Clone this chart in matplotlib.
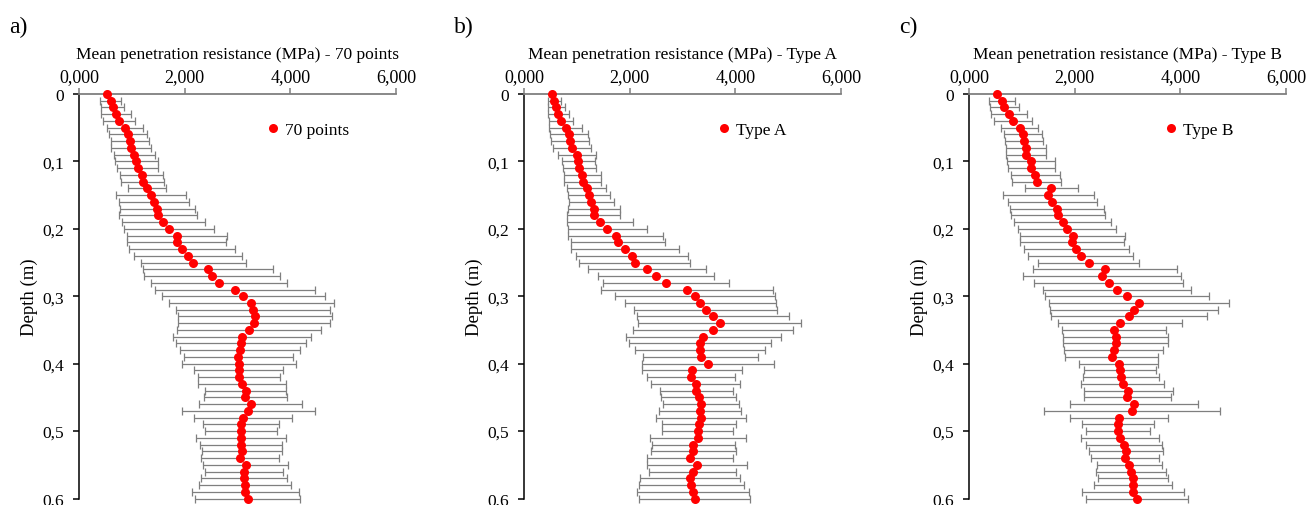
import numpy as np
import matplotlib
matplotlib.use("Agg")
import matplotlib.pyplot as plt
from matplotlib.ticker import FuncFormatter

plt.rcParams['font.family'] = ['Liberation Serif', 'DejaVu Serif']

# Depth grid (m), one reading every 0.01 m
depth = np.round(np.arange(0, 0.601, 0.01), 2)

# Mean penetration resistance (kPa) and standard deviation - all 70 points
mean_all = [536, 599, 637, 694, 751, 871, 927, 965, 990, 1047,
            1085, 1110, 1186, 1205, 1281, 1363, 1420, 1483, 1495, 1596,
            1710, 1849, 1849, 1950, 2063, 2164, 2448, 2517, 2656, 2946,
            3110, 3262, 3287, 3331, 3306, 3211, 3085, 3066, 3047, 3016,
            3022, 3022, 3022, 3085, 3155, 3148, 3249, 3205, 3110, 3066,
            3066, 3066, 3066, 3091, 3047, 3155, 3123, 3123, 3148, 3148,
            3192]
sd_all = [0, 199, 224, 281, 303, 347, 357, 357, 379, 388,
          401, 388, 404, 410, 363, 663, 659, 716, 732, 780,
          849, 947, 937, 1004, 1019, 994, 1230, 1284, 1287, 1515,
          1537, 1562, 1457, 1464, 1436, 1360, 1297, 1227, 1130, 1035,
          1076, 843, 773, 824, 767, 783, 975, 1262, 924, 726,
          685, 852, 776, 757, 738, 805, 739, 823, 874, 1013,
          994]

# Type A
mean_a = [537, 575, 607, 651, 695, 790, 853, 872, 910, 1005,
          1030, 1049, 1106, 1112, 1188, 1232, 1277, 1321, 1321, 1441,
          1580, 1732, 1776, 1915, 2048, 2092, 2326, 2496, 2680, 3090,
          3229, 3337, 3438, 3583, 3704, 3583, 3394, 3331, 3331, 3343,
          3489, 3179, 3166, 3248, 3261, 3305, 3350, 3331, 3343, 3312,
          3286, 3286, 3204, 3204, 3147, 3267, 3191, 3147, 3166, 3204,
          3229]
sd_a = [0, 127, 162, 196, 231, 313, 357, 363, 354, 364,
        319, 316, 354, 354, 370, 395, 421, 496, 503, 623,
        746, 895, 888, 1021, 1056, 1043, 1116, 1100, 1191, 1624,
        1514, 1428, 1349, 1438, 1542, 1517, 1466, 1343, 1236, 1084,
        1248, 948, 834, 847, 695, 717, 715, 768, 853, 699,
        670, 907, 787, 806, 815, 948, 825, 945, 992, 1062,
        1043]

# Type B
mean_b = [537, 632, 670, 752, 828, 961, 1024, 1036, 1081, 1081,
          1176, 1182, 1258, 1283, 1561, 1498, 1580, 1662, 1687, 1770,
          1852, 1966, 1953, 2029, 2111, 2269, 2572, 2515, 2642, 2794,
          2996, 3217, 3122, 3034, 2857, 2749, 2775, 2775, 2737, 2699,
          2832, 2857, 2876, 2907, 3015, 2996, 3128, 3084, 2838, 2819,
          2819, 2863, 2933, 2977, 2951, 3034, 3065, 3103, 3103, 3103,
          3179]
sd_b = [0, 247, 275, 338, 363, 351, 357, 357, 383, 383,
        455, 449, 455, 465, 506, 860, 835, 888, 895, 910,
        929, 992, 980, 996, 996, 958, 1359, 1495, 1403, 1400,
        1549, 1710, 1590, 1476, 1166, 989, 999, 999, 935, 885,
        746, 689, 711, 787, 837, 825, 1210, 1666, 935, 680,
        610, 736, 727, 698, 648, 619, 660, 670, 746, 964,
        964]

panel_letters = ["a)", "b)", "c)"]
titles = ["Mean penetration resistance (MPa) - 70 points",
          "Mean penetration resistance (MPa) - Type A",
          "Mean penetration resistance (MPa) - Type B"]
series_names = ["70 points", "Type A", "Type B"]
means = [mean_all, mean_a, mean_b]
sds = [sd_all, sd_a, sd_b]

x_ticks = [0, 2000, 4000, 6000]
y_ticks = [0, 0.1, 0.2, 0.3, 0.4, 0.5, 0.6]
y_ticklabels = ["0", "0,1", "0,2", "0,3", "0,4", "0,5", "0,6"]

W, H = 1307, 506
fig = plt.figure(figsize=(W / 100, H / 100), dpi=100)

lefts = [79, 524, 969]
ax_w = 317
top_px, bot_px = 95, 499.5
legend_x = [0.612, 0.631, 0.637]
letter_x = [9, 454, 899]

grey = "#7f7f7f"

for k in range(3):
    ax = fig.add_axes([lefts[k] / W, (H - bot_px) / H, ax_w / W, (bot_px - top_px) / H])
    ax.errorbar(means[k], depth, xerr=sds[k], fmt="none", ecolor=grey,
                elinewidth=0.9, capsize=2.8, capthick=0.9, zorder=2, clip_on=False)
    ax.plot(means[k], depth, "o", color="#ff0000", markersize=6.5,
            markeredgewidth=0, zorder=3, clip_on=False, label=series_names[k])

    ax.set_xlim(0, 6000)
    ax.set_ylim(0.6, 0)
    ax.xaxis.tick_top()
    ax.xaxis.set_label_position("top")
    ax.set_xticks(x_ticks)
    ax.xaxis.set_major_formatter(FuncFormatter(
        lambda v, p: f"{v / 1000:.3f}".replace(".", ",")))
    ax.set_yticks(y_ticks)
    ax.set_yticklabels(y_ticklabels)

    for side in ("right", "bottom"):
        ax.spines[side].set_visible(False)
    ax.spines["top"].set_color(grey)
    ax.spines["top"].set_linewidth(1.3)
    ax.spines["left"].set_color("black")
    ax.spines["left"].set_linewidth(1.1)

    ax.tick_params(axis="x", direction="out", length=4, width=1.1, color=grey,
                   labelsize=13, pad=2.5)
    ax.tick_params(axis="y", direction="out", length=4, width=1.1, color="black",
                   labelsize=12.5, pad=7)

    ax.set_title(titles[k], fontsize=12.5, pad=26)
    ax.set_ylabel("Depth (m)", fontsize=13.5, labelpad=3)

    ax.legend(loc="center left", bbox_to_anchor=(legend_x[k] - 0.022, 0.911),
              frameon=False, fontsize=12.5, handlelength=0.8, handletextpad=0.3,
              borderpad=0, borderaxespad=0, numpoints=1)

    fig.text(letter_x[k] / W, 1 - 27 / H, panel_letters[k], fontsize=17,
             ha="left", va="center")

fig.savefig("out.png", dpi=100)
